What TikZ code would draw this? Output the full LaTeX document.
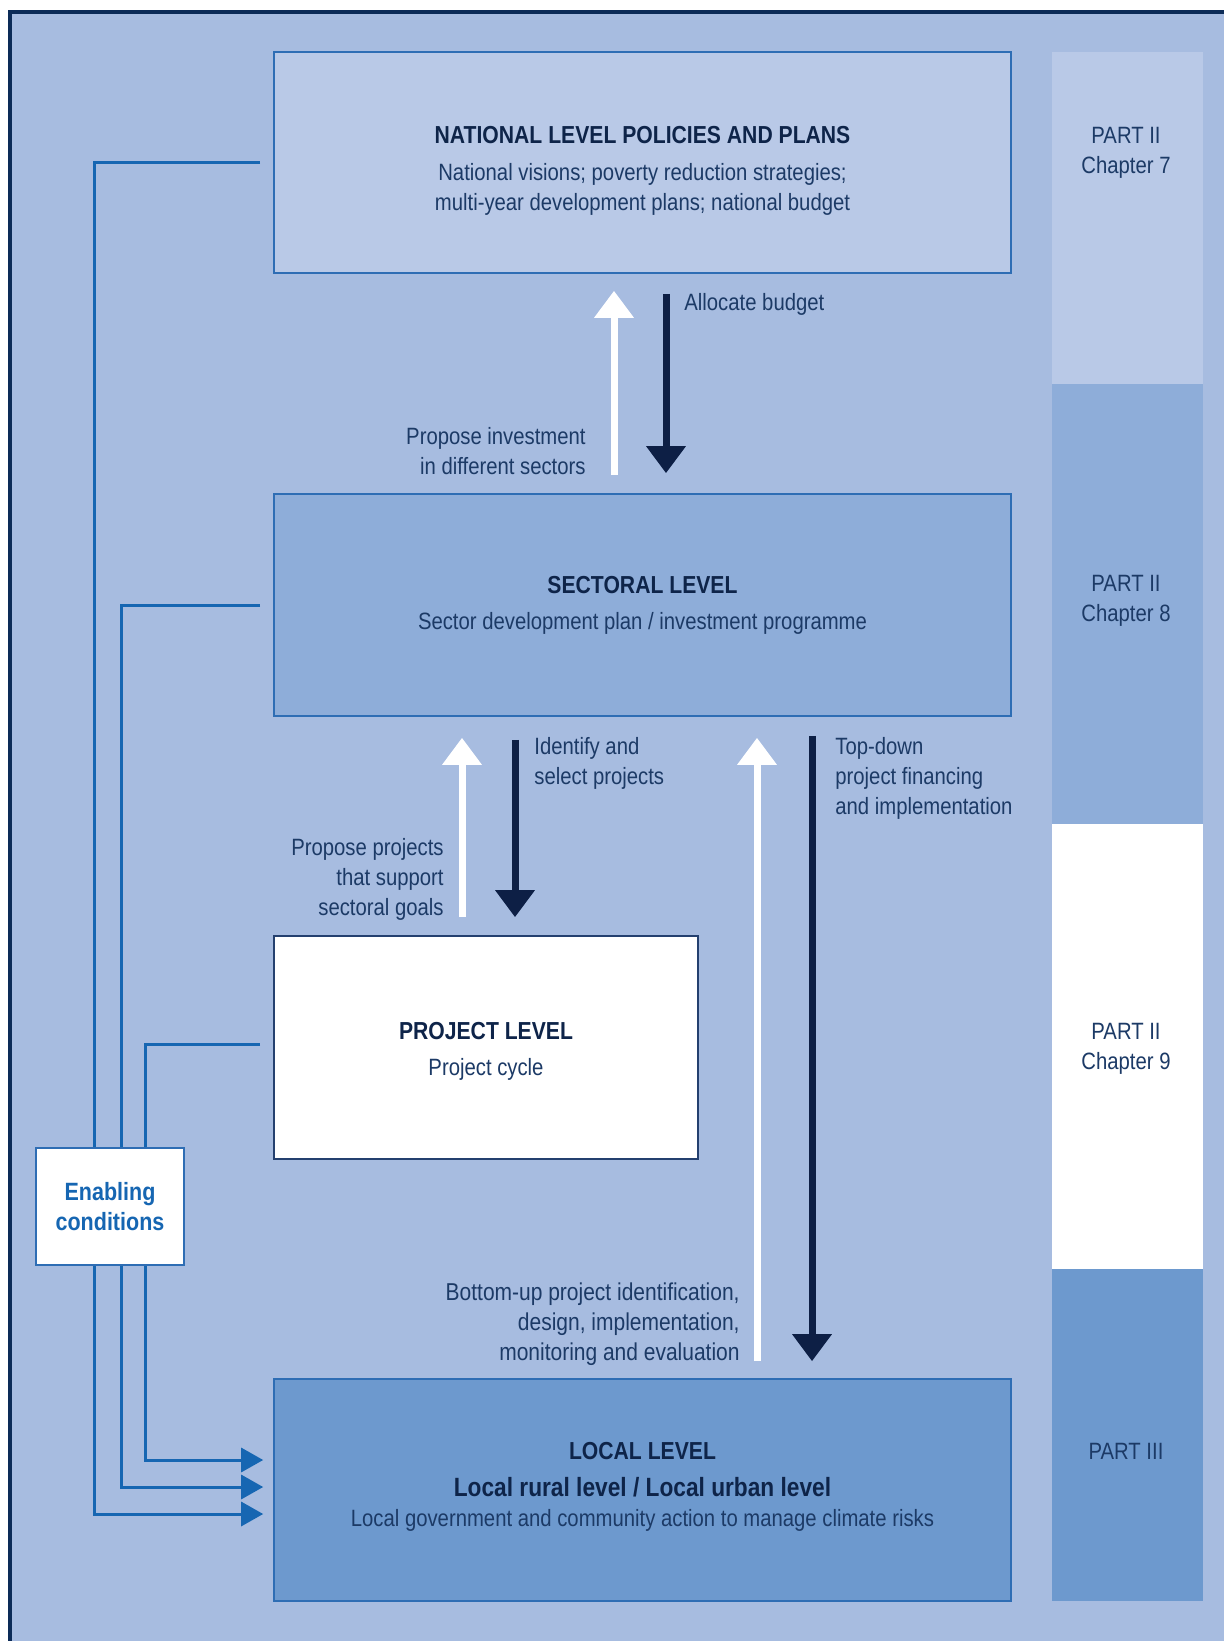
\documentclass[tikz,border=0pt]{standalone}
\usepackage{fontspec}
\setmainfont{Liberation Sans}[FakeStretch=0.86]
\usepackage{tikz}
\usetikzlibrary{arrows.meta,shapes}

\definecolor{bgblue}{HTML}{A7BCE0}
\definecolor{natfill}{HTML}{B9C9E7}
\definecolor{sectfill}{HTML}{8EADD9}
\definecolor{locfill}{HTML}{6D99CE}
\definecolor{boxline}{HTML}{2E6DB4}
\definecolor{projline}{HTML}{24406F}
\definecolor{arrownavy}{HTML}{0D1F45}
\definecolor{textnavy}{HTML}{1C3A66}
\definecolor{titlenavy}{HTML}{0E2449}
\definecolor{linkblue}{HTML}{1666B2}
\definecolor{framenavy}{HTML}{0C2B57}

\begin{document}
\begin{tikzpicture}
[x=0.5pt, y=-0.5pt]
\tikzset{
	txt/.style = {text=textnavy, font=\fontsize{11.8}{15}\selectfont},
	level box/.style = {rectangle, draw=boxline, line width=0.8pt, inner sep=0},
	box text/.style = {txt, align=center},
	part/.style = {txt, align=center},
	note left/.style = {txt, align=right, anchor=east, inner sep=0},
	note right/.style = {txt, align=left, anchor=west, inner sep=0},
	uparrow/.style = {draw=white, line width=3.5pt, -{Triangle[width=19pt,length=13.5pt]}},
	downarrow/.style = {draw=arrownavy, line width=3.5pt, -{Triangle[width=19pt,length=13.5pt]}},
	link/.style = {draw=linkblue, line width=1.5pt, -{Triangle[width=12pt,length=11pt]}}
}
\newcommand{\ttlfont}[1]{{\color{titlenavy}\fontsize{12.3}{15}\selectfont\bfseries #1}}

\useasboundingbox (0,0) rectangle (1224,1641);
\fill[white] (0,0) rectangle (1224,1641);
\fill[bgblue] (10,12) rectangle (1224,1641);
\draw[framenavy, line width=1.6pt] (10,1641) -- (10,12) -- (1224,12);

\fill[natfill] (1052,52) rectangle (1203,384);
\fill[sectfill] (1052,384) rectangle (1203,824);
\fill[white] (1052,824) rectangle (1203,1269);
\fill[locfill] (1052,1269) rectangle (1203,1601);
\node (part7) [part] at (1126,152.5) {PART II\\Chapter 7};
\node (part8) [part] at (1126,600.5) {PART II\\Chapter 8};
\node (part9) [part] at (1126,1049) {PART II\\Chapter 9};
\node (part3) [part] at (1126,1451) {PART III};

\node (nat) [level box, fill=natfill, minimum width=368.5pt, minimum height=110.5pt] at (642.5,162.5) {};
\node (sect) [level box, fill=sectfill, minimum width=368.5pt, minimum height=111pt] at (642.5,605) {};
\node (proj) [level box, fill=white, draw=projline, minimum width=212pt, minimum height=111.5pt] at (486,1047.5) {};
\node (loc) [level box, fill=locfill, minimum width=368.5pt, minimum height=111pt] at (642.5,1490) {};

\node (nattext) [box text] at ([shift={(0,8.5)}]nat.center)
	{\ttlfont{NATIONAL LEVEL POLICIES AND PLANS}\\[3.5pt]
	National visions; poverty reduction strategies;\\
	multi-year development plans; national budget};
\node (secttext) [box text] at (sect.center)
	{\ttlfont{SECTORAL LEVEL}\\[3pt]
	Sector development plan / investment programme};
\node (projtext) [box text] at ([shift={(0,4)}]proj.center)
	{\ttlfont{PROJECT LEVEL}\\[3pt]
	Project cycle};
\node (loctext) [box text] at ([shift={(0,-3)}]loc.center)
	{\ttlfont{LOCAL LEVEL}\\[3.5pt]
	{\color{titlenavy}\fontsize{13.2}{15}\selectfont\bfseries Local rural level / Local urban level}\\
	Local government and community action to manage climate risks};

\draw[uparrow] ([shift={(-28.5,-18)}]sect.north) -- ([shift={(-28.5,17)}]nat.south);
\draw[downarrow] ([shift={(23.5,20)}]nat.south) -- ([shift={(23.5,-20)}]sect.north);
\node (alloc) [note right] at (684,304) {Allocate budget};
\node (propinv) [note left] at (586,451) {Propose investment\\in different sectors};

\draw[uparrow] ([shift={(-24,-18)}]proj.north) -- ([shift={(-180.5,21)}]sect.south);
\draw[downarrow] ([shift={(-127.5,23)}]sect.south) -- ([shift={(29,-18)}]proj.north);
\node (ident) [note right] at (534,763) {Identify and\\select projects};
\node (propproj) [note left] at (444,879) {Propose projects\\that support\\sectoral goals};

\draw[uparrow] ([shift={(114.5,-17)}]loc.north) -- ([shift={(114.5,21)}]sect.south);
\draw[downarrow] ([shift={(169.5,19)}]sect.south) -- ([shift={(169.5,-17)}]loc.north);
\node (topdown) [note right] at (835,778) {Top-down\\project financing\\and implementation};
\node (bottomup) [note left, font=\fontsize{12.2}{15}\selectfont] at (740,1324) {Bottom-up project identification,\\design, implementation,\\monitoring and evaluation};

\coordinate (in1) at ([shift={(-10,24)}]loc.west);
\coordinate (in2) at ([shift={(-10,-3)}]loc.west);
\coordinate (in3) at ([shift={(-10,-30)}]loc.west);
\draw[link] ([shift={(-13,0)}]nat.west) -- ++(-166,0) |- (in1);
\draw[link] ([shift={(-13,0)}]sect.west) -- ++(-139,0) |- (in2);
\draw[link] ([shift={(-13,-3)}]proj.west) -- ++(-115,0) |- (in3);

\node (enab) [rectangle, draw=boxline, line width=0.8pt, fill=white, minimum width=74pt, minimum height=58.5pt,
	text=linkblue, font=\fontsize{12.5}{15}\selectfont\bfseries, align=center, inner sep=0] at (110,1206.5)
	{Enabling\\conditions};
\end{tikzpicture}
\end{document}
